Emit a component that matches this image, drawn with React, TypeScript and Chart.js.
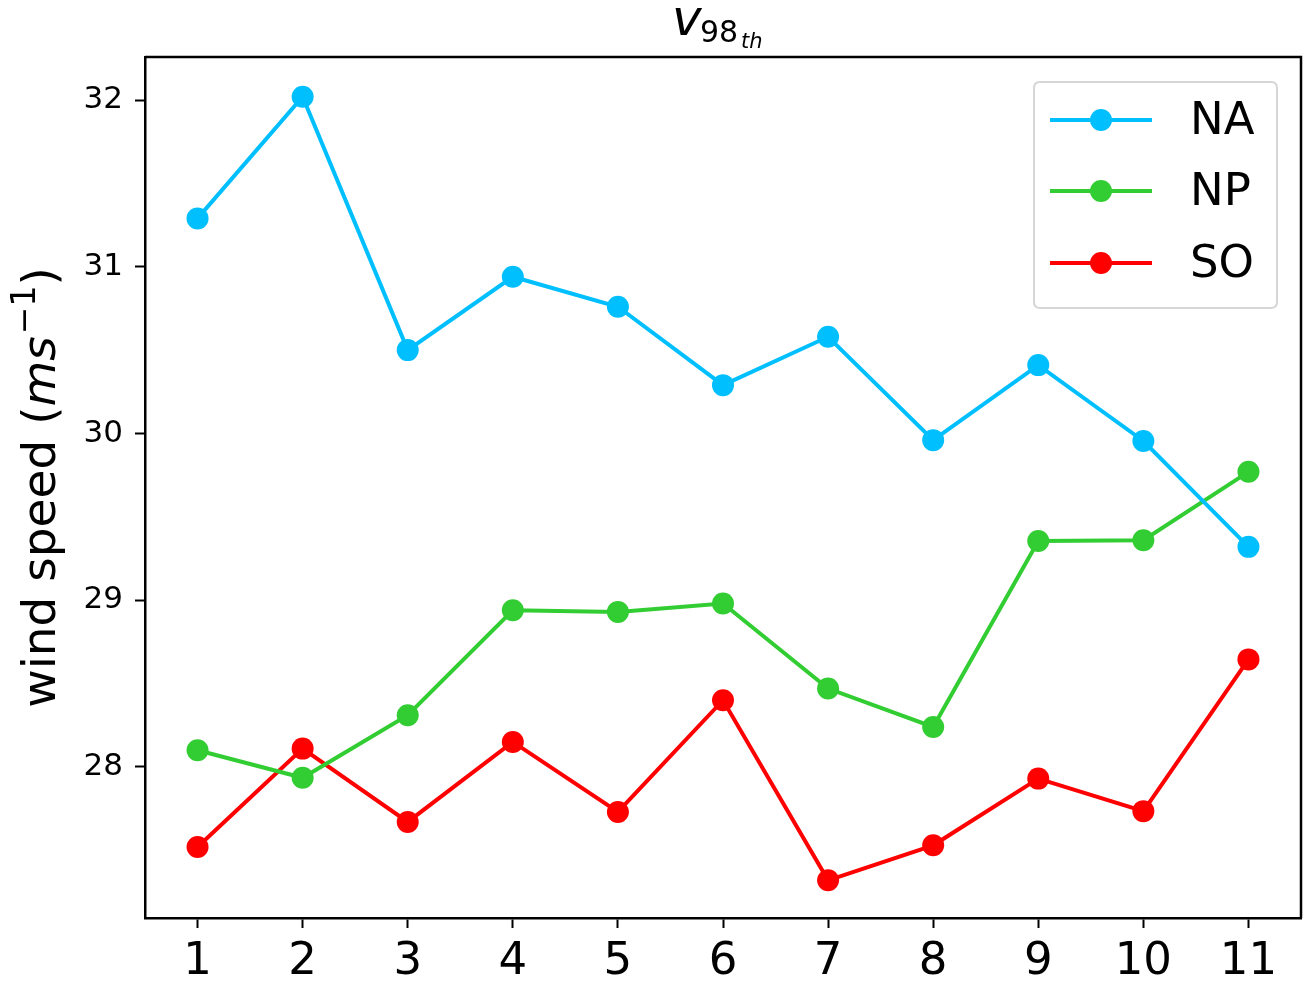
import React, { useEffect, useRef } from "react";
import { Chart, registerables } from "chart.js";

Chart.register(...registerables);

const categories = ["1", "2", "3", "4", "5", "6", "7", "8", "9", "10", "11"];
const seriesNames = ["NA", "NP", "SO"];
const seriesColors = ["#00BFFF", "#32CD32", "#FF0000"];
const naValues = [31.29, 32.02, 30.5, 30.94, 30.76, 30.29, 30.58, 29.96, 30.41, 29.955, 29.32];
const npValues = [28.1, 27.935, 28.31, 28.94, 28.93, 28.98, 28.47, 28.24, 29.355, 29.36, 29.77];
const soValues = [27.52, 28.11, 27.67, 28.15, 27.73, 28.4, 27.32, 27.53, 27.93, 27.735, 28.645];
const yTicks = [28, 29, 30, 31, 32];
const yMin = 27.094;
const yMax = 32.258;

const FONT = "'DejaVu Sans', sans-serif";

const decorPlugin = {
  id: "decor",
  afterDraw(chart: any) {
    const ctx = chart.ctx;
    const ca = chart.chartArea;
    ctx.save();
    // frame top and right
    ctx.strokeStyle = "#000";
    ctx.lineWidth = 2.5;
    ctx.beginPath();
    ctx.moveTo(ca.left, ca.top);
    ctx.lineTo(ca.right, ca.top);
    ctx.lineTo(ca.right, ca.bottom);
    ctx.stroke();

    // title v_{98_{th}}
    ctx.fillStyle = "#000";
    ctx.textBaseline = "alphabetic";
    ctx.textAlign = "left";
    ctx.font = `oblique 50px ${FONT}`;
    ctx.fillText("v", 672, 35);
    ctx.font = `30px ${FONT}`;
    ctx.fillText("98", 700, 42);
    ctx.font = `oblique 21px ${FONT}`;
    ctx.fillText("th", 741, 48);

    // y label
    ctx.save();
    ctx.translate(55, (ca.top + ca.bottom) / 2);
    ctx.rotate(-Math.PI / 2);
    const p1 = "wind speed (";
    const p2 = "ms";
    const p3 = "\u22121";
    const p4 = ")";
    ctx.font = `47px ${FONT}`;
    const w1 = ctx.measureText(p1).width;
    const w4 = ctx.measureText(p4).width;
    ctx.font = `oblique 47px ${FONT}`;
    const w2 = ctx.measureText(p2).width;
    ctx.font = `33px ${FONT}`;
    const w3 = ctx.measureText(p3).width;
    const total = w1 + w2 + w3 + w4 + 2;
    let x = -total / 2;
    ctx.textBaseline = "alphabetic";
    ctx.font = `47px ${FONT}`;
    ctx.fillText(p1, x, 0);
    x += w1;
    ctx.font = `oblique 47px ${FONT}`;
    ctx.fillText(p2, x, 0);
    x += w2 + 2;
    ctx.font = `33px ${FONT}`;
    ctx.fillText(p3, x, -20);
    x += w3;
    ctx.font = `47px ${FONT}`;
    ctx.fillText(p4, x, 0);
    ctx.restore();

    // legend
    const bx = 1034, by = 82, bw = 243, bh = 226, r = 6;
    ctx.beginPath();
    ctx.moveTo(bx + r, by);
    ctx.lineTo(bx + bw - r, by);
    ctx.quadraticCurveTo(bx + bw, by, bx + bw, by + r);
    ctx.lineTo(bx + bw, by + bh - r);
    ctx.quadraticCurveTo(bx + bw, by + bh, bx + bw - r, by + bh);
    ctx.lineTo(bx + r, by + bh);
    ctx.quadraticCurveTo(bx, by + bh, bx, by + bh - r);
    ctx.lineTo(bx, by + r);
    ctx.quadraticCurveTo(bx, by, bx + r, by);
    ctx.closePath();
    ctx.fillStyle = "rgba(255,255,255,0.8)";
    ctx.fill();
    ctx.strokeStyle = "#d6d6d6";
    ctx.lineWidth = 2;
    ctx.stroke();
    const rows = [120, 191, 263];
    seriesNames.forEach((name, i) => {
      const yy = rows[i];
      ctx.strokeStyle = seriesColors[i];
      ctx.lineWidth = 4;
      ctx.beginPath();
      ctx.moveTo(1050, yy);
      ctx.lineTo(1152, yy);
      ctx.stroke();
      ctx.fillStyle = seriesColors[i];
      ctx.beginPath();
      ctx.arc(1101, yy, 11, 0, Math.PI * 2);
      ctx.fill();
      ctx.fillStyle = "#000";
      ctx.font = `45px ${FONT}`;
      ctx.textBaseline = "middle";
      ctx.textAlign = "left";
      ctx.fillText(name, 1190, yy + 2);
    });
    ctx.restore();
  },
};

export default function App() {
  const ref = useRef<HTMLCanvasElement | null>(null);
  useEffect(() => {
    document.body.style.margin = "0";
    const canvas = ref.current!;
    const values = [naValues, npValues, soValues];
    const chart = new Chart(canvas, {
      type: "line",
      data: {
        labels: categories,
        datasets: seriesNames.map((name, i) => ({
          label: name,
          data: values[i],
          borderColor: seriesColors[i],
          backgroundColor: seriesColors[i],
          borderWidth: 4,
          pointRadius: 11,
          pointHoverRadius: 11,
          pointBorderWidth: 0,
          pointBackgroundColor: seriesColors[i],
          tension: 0,
          fill: false,
        })),
      },
      options: {
        responsive: false,
        animation: false,
        events: [],
        layout: { autoPadding: false, padding: { top: 57, right: 5, left: 0, bottom: 0 } },
        plugins: {
          legend: { display: false },
          title: { display: false },
          tooltip: { enabled: false },
        },
        scales: {
          x: {
            type: "category",
            offset: true,
            grid: {
              offset: false,
              drawOnChartArea: false,
              drawTicks: true,
              tickLength: 10,
              tickWidth: 2,
              tickColor: "#000",
            },
            border: { display: true, color: "#000", width: 2.5 },
            ticks: {
              color: "#000",
              font: { family: FONT, size: 45 },
              padding: 7,
              maxRotation: 0,
              autoSkip: false,
            },
            afterFit(scale: any) {
              scale.height = 66;
              scale.paddingLeft = 0;
              scale.paddingRight = 0;
            },
          },
          y: {
            type: "linear",
            min: yMin,
            max: yMax,
            afterBuildTicks(scale: any) {
              scale.ticks = yTicks.map((v) => ({ value: v }));
            },
            grid: {
              drawOnChartArea: false,
              drawTicks: true,
              tickLength: 10,
              tickWidth: 2,
              tickColor: "#000",
            },
            border: { display: true, color: "#000", width: 2.5 },
            ticks: {
              color: "#000",
              font: { family: FONT, size: 31 },
              padding: 12,
              callback: (v: any) => String(v),
            },
            afterFit(scale: any) {
              scale.width = 145;
              scale.paddingTop = 0;
              scale.paddingBottom = 0;
            },
          },
        },
      },
      plugins: [decorPlugin],
    });
    return () => chart.destroy();
  }, []);
  return (
    <div style={{ position: "absolute", left: 0, top: 0, width: 1306, height: 984, background: "#fff" }}>
      <canvas ref={ref} width={1306} height={984} />
    </div>
  );
}
